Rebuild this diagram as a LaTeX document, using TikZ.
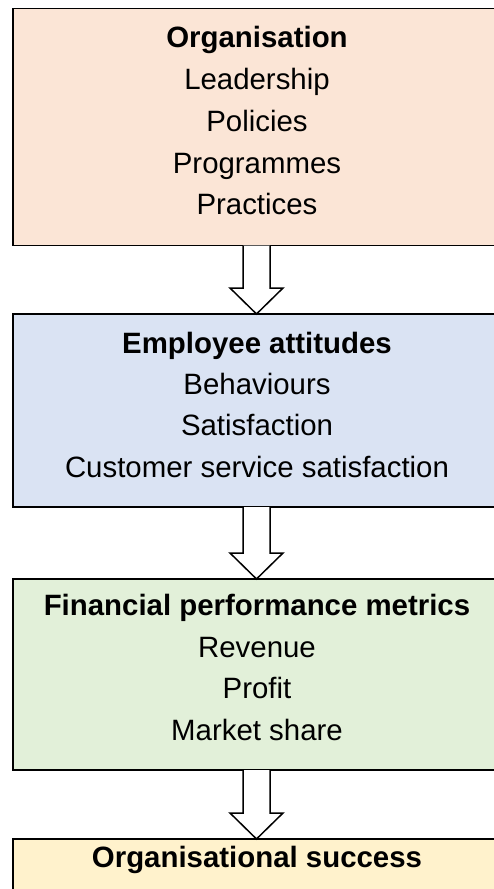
\documentclass[tikz,border=0pt]{standalone}
\usepackage{fontspec}
\setmainfont{Liberation Sans}
\usetikzlibrary{calc}

\definecolor{orgfill}{HTML}{FBE5D6}
\definecolor{empfill}{HTML}{DAE3F3}
\definecolor{finfill}{HTML}{E2F0D9}
\definecolor{sucfill}{HTML}{FFF2CC}

\tikzset{
  box/.style={draw=black, line width=1.6pt, rectangle, anchor=north west,
    minimum width=487pt, inner sep=0pt, outer sep=0pt},
  txt/.style={anchor=base, inner sep=0pt, outer sep=0pt,
    font=\fontsize{29.4}{35}\selectfont},
  blockarrow/.style={draw=black, fill=white, line width=1.5pt, line join=miter},
}

% hollow block arrow from the bottom of one box to the top of the next
\newcommand{\flowarrow}[2]{%
  \draw[blockarrow]
    ($(#1.south)+(-13.5,0)$) -- ($(#2.north)+(-13.5,-26)$) --
    ($(#2.north)+(-26.5,-26)$) -- (#2.north) --
    ($(#2.north)+(26.5,-26)$) -- ($(#2.north)+(13.5,-26)$) --
    ($(#1.south)+(13.5,0)$);}

\begin{document}
\begin{tikzpicture}[x=1pt,y=-1pt]
  \clip (0,0) rectangle (494,889);
  \fill[white] (0,0) rectangle (494,889);

  % boxes
  \node[box, fill=orgfill, minimum height=237pt] (org) at (13,8.5) {};
  \node[box, fill=empfill, minimum height=193pt] (emp) at (13,314) {};
  \node[box, fill=finfill, minimum height=191pt] (fin) at (13,579) {};
  \node[box, fill=sucfill, minimum height=80pt]  (suc) at (13,839) {};

  % organisation
  \node[txt] (orgA) at (257,47.5)  {\textbf{Organisation}};
  \node[txt] (orgB) at (257,89.5)  {Leadership};
  \node[txt] (orgC) at (257,131.5) {Policies};
  \node[txt] (orgD) at (257,173)   {Programmes};
  \node[txt] (orgE) at (257,214.5) {Practices};

  % employee attitudes
  \node[txt] (empA) at (257,353) {\textbf{Employee attitudes}};
  \node[txt] (empB) at (257,394) {Behaviours};
  \node[txt] (empC) at (257,435) {Satisfaction};
  \node[txt] (empD) at (257,477) {Customer service satisfaction};

  % financial performance
  \node[txt] (finA) at (257,615) {\textbf{Financial performance metrics}};
  \node[txt] (finB) at (257,657) {Revenue};
  \node[txt] (finC) at (257,698) {Profit};
  \node[txt] (finD) at (257,740) {Market share};

  % outcome
  \node[txt] (sucA) at (257,867) {\textbf{Organisational success}};

  % connectors
  \flowarrow{org}{emp}
  \flowarrow{emp}{fin}
  \flowarrow{fin}{suc}
\end{tikzpicture}
\end{document}
